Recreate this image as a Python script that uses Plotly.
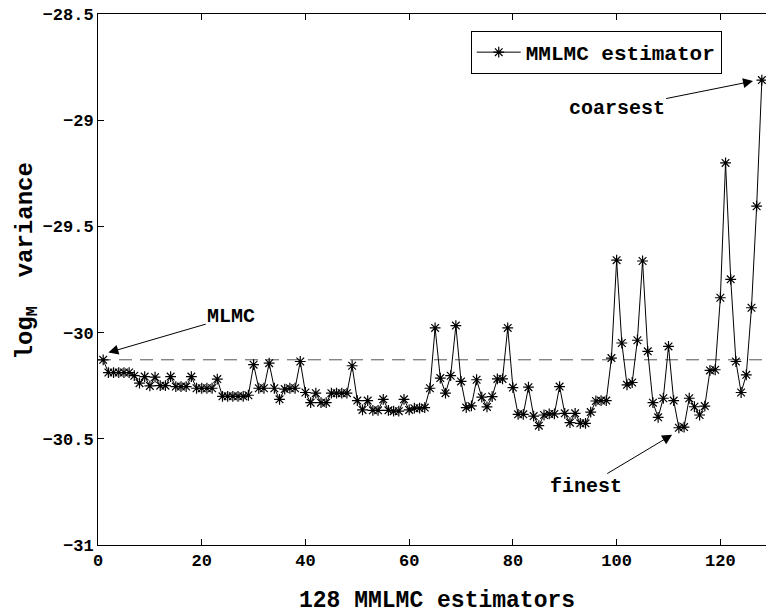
import plotly.graph_objects as go

estimator_idx = list(range(1, 129))
log_variance = [
    -30.128, -30.188, -30.188, -30.188, -30.188, -30.188, -30.203, -30.238, -30.207, -30.251,
    -30.210, -30.250, -30.250, -30.207, -30.254, -30.254, -30.254, -30.207, -30.262, -30.262,
    -30.262, -30.262, -30.219, -30.300, -30.300, -30.300, -30.300, -30.300, -30.295, -30.151,
    -30.262, -30.262, -30.144, -30.262, -30.314, -30.266, -30.262, -30.262, -30.136, -30.282,
    -30.330, -30.285, -30.330, -30.330, -30.285, -30.285, -30.285, -30.285, -30.156, -30.320,
    -30.364, -30.320, -30.366, -30.366, -30.314, -30.366, -30.370, -30.370, -30.314, -30.364,
    -30.356, -30.356, -30.353, -30.262, -29.978, -30.214, -30.285, -30.203, -29.967, -30.230,
    -30.353, -30.345, -30.222, -30.304, -30.350, -30.301, -30.218, -30.218, -29.978, -30.259,
    -30.385, -30.385, -30.257, -30.393, -30.438, -30.388, -30.383, -30.383, -30.254, -30.380,
    -30.424, -30.380, -30.427, -30.427, -30.374, -30.322, -30.320, -30.320, -30.120, -29.659,
    -30.049, -30.246, -30.235, -30.036, -29.663, -30.088, -30.330, -30.399, -30.309, -30.065,
    -30.320, -30.448, -30.445, -30.309, -30.349, -30.388, -30.346, -30.178, -30.175, -29.836,
    -29.201, -29.749, -30.136, -30.282, -30.199, -29.883, -29.405, -28.811,
]
mlmc_value = -30.128

x_tick_vals = [0, 20, 40, 60, 80, 100, 120]
x_tick_text = ["0", "20", "40", "60", "80", "100", "120"]
y_tick_vals = [-31, -30.5, -30, -29.5, -29, -28.5]
y_tick_text = ["\u221231", "\u221230.5", "\u221230", "\u221229.5", "\u221229", "\u221228.5"]

FONT = "Liberation Mono"

fig = go.Figure()
fig.add_trace(go.Scatter(
    x=[0, 130], y=[mlmc_value, mlmc_value], mode="lines",
    line=dict(color="#555555", width=1, dash="13px,8px"),
    showlegend=False, hoverinfo="skip",
))
fig.add_trace(go.Scatter(
    x=estimator_idx, y=log_variance, mode="lines+markers",
    name="MMLMC estimator",
    line=dict(color="black", width=1),
    marker=dict(symbol="asterisk-open", size=9, color="black",
                line=dict(color="black", width=1.2)),
))

def label_arrow(text, tip_x, tip_y, txt_x, txt_y):
    fig.add_annotation(
        x=tip_x, y=tip_y, ax=txt_x, ay=txt_y, xref="x", yref="y", axref="x", ayref="y",
        text=text, showarrow=True, arrowhead=2, arrowsize=2.0, arrowwidth=1,
        arrowcolor="black", standoff=0, startstandoff=0,
        font=dict(family=FONT, size=20, color="black", weight="bold"),
    )

label_arrow("MLMC", 2.0, -30.094, 25.7, -29.925)
label_arrow("coarsest", 126.3, -28.816, 100.0, -28.945)
label_arrow("finest", 110.7, -30.481, 94.0, -30.725)

fig.add_annotation(x=0.507, y=-0.105, xref="paper", yref="paper", showarrow=False,
                   text="128 MMLMC estimators", xanchor="center", yanchor="middle",
                   font=dict(family=FONT, size=23, color="black", weight="bold"))
fig.add_annotation(x=-0.107, y=0.535, xref="paper", yref="paper", showarrow=False,
                   text="log<sub>M</sub>  variance", textangle=-90,
                   xanchor="center", yanchor="middle",
                   font=dict(family=FONT, size=24, color="black", weight="bold"))

fig.update_layout(
    width=766, height=616,
    margin=dict(l=98, r=0, t=14, b=71, autoexpand=False),
    paper_bgcolor="white", plot_bgcolor="white",
    font=dict(family=FONT, size=17, color="black", weight="bold"),
    legend=dict(x=0.558, y=0.968, xanchor="left", yanchor="top",
                bordercolor="black", borderwidth=1, bgcolor="white",
                itemwidth=44,
                font=dict(family=FONT, size=21, weight="bold")),
    xaxis=dict(
        range=[0, 128.8], tickvals=x_tick_vals, ticktext=x_tick_text,
        ticks="inside", ticklen=6, tickcolor="black", showline=True, linecolor="black",
        linewidth=1, mirror="ticks", showgrid=False, zeroline=False, automargin=False,
        ticklabeloverflow="allow",
    ),
    yaxis=dict(
        range=[-31, -28.5], tickvals=y_tick_vals, ticktext=y_tick_text,
        ticks="inside", ticklen=6, tickcolor="black", showline=True, linecolor="black",
        linewidth=1, mirror=False, showgrid=False, zeroline=False, automargin=False,
        ticklabeloverflow="allow",
    ),
)

fig.write_html(
    "out.html",
    config={"displayModeBar": False},
    post_script="document.body.style.margin='0';document.body.style.overflow='hidden';",
)
